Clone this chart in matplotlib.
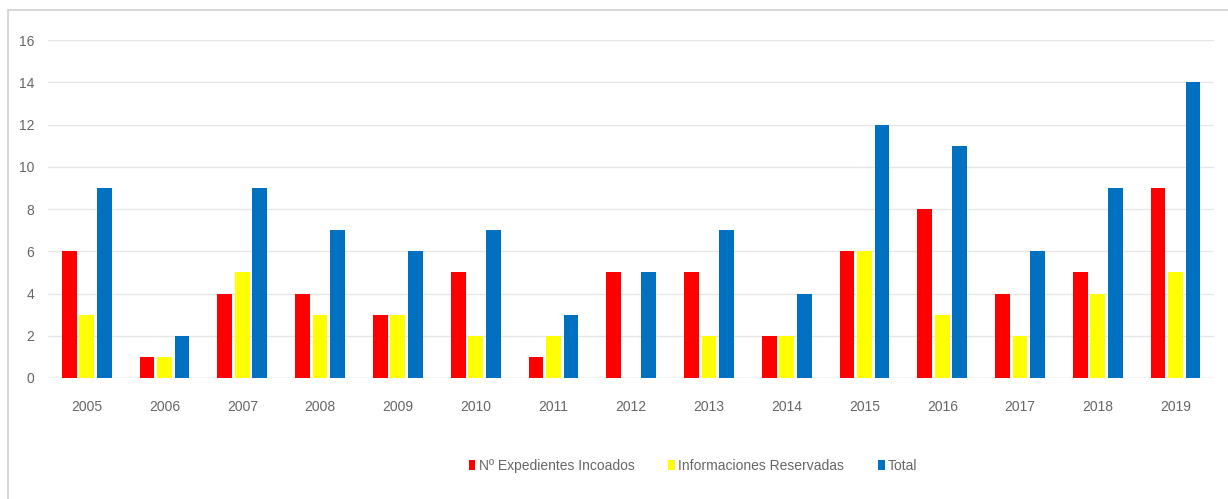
import numpy as np
import matplotlib.pyplot as plt
from matplotlib.patches import Rectangle

years = ['2005', '2006', '2007', '2008', '2009', '2010', '2011', '2012',
         '2013', '2014', '2015', '2016', '2017', '2018', '2019']
expedientes = [6, 1, 4, 4, 3, 5, 1, 5, 5, 2, 6, 8, 4, 5, 9]
informaciones = [3, 1, 5, 3, 3, 2, 2, 0, 2, 2, 6, 3, 2, 4, 5]
total = [9, 2, 9, 7, 6, 7, 3, 5, 7, 4, 12, 11, 6, 9, 14]

series_names = ['Nº Expedientes Incoados', 'Informaciones Reservadas', 'Total']
colors = ['#ff0000', '#ffff00', '#0070c0']

plt.rcParams['font.family'] = ['Liberation Sans', 'DejaVu Sans']

fig = plt.figure(figsize=(12.28, 4.99), dpi=100)
ax = fig.add_axes([0.039, 0.2425, 0.950, 0.677])

x = np.arange(len(years))
w = 0.19
step = 0.225
for i, (vals, name, c) in enumerate(zip([expedientes, informaciones, total], series_names, colors)):
    ax.bar(x + (i - 1) * step, vals, width=w, color=c, label=name, zorder=3)

ax.set_xlim(-0.5, len(years) - 0.5)
ax.set_ylim(0, 16)
ax.set_yticks(range(0, 17, 2))
ax.set_xticks(x)
ax.set_xticklabels(years)
ax.grid(axis='y', color='#e6e6e6', linewidth=1, zorder=0)
for s in ax.spines.values():
    s.set_visible(False)
ax.axhline(0, color='#d9d9d9', linewidth=1, zorder=2)
ax.tick_params(length=0, labelsize=10, colors='#666666', pad=16)
ax.tick_params(axis='y', pad=10)

# marco exterior del gráfico
fig.patches.append(Rectangle((8 / 1228, -0.05), 1.1, 1 - 10 / 499 + 0.05,
                             transform=fig.transFigure, fill=False,
                             edgecolor='#d0d0d0', linewidth=1.2))

ax.legend(loc='center', bbox_to_anchor=(0.553, -0.26), ncol=3, frameon=False,
          fontsize=10, labelcolor='#666666', handlelength=0.5, handleheight=0.7,
          handletextpad=0.25, columnspacing=2.4)

fig.savefig('out.png', dpi=100)
